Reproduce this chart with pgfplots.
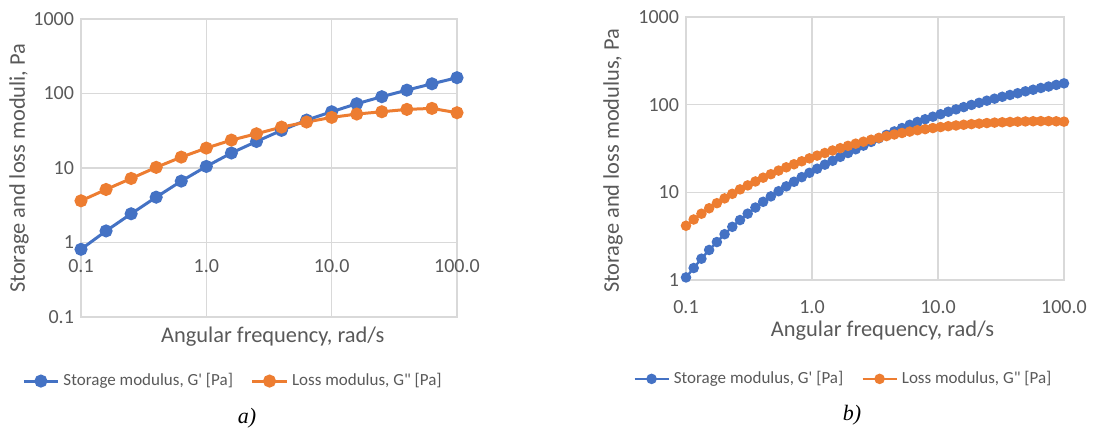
\documentclass[border=0pt]{standalone}
\usepackage{fontspec}
\setmainfont{Carlito}[Ligatures=TeXOff]
\newfontfamily\capfont{Liberation Serif}
\usepackage{pgfplots}
\usepackage{pgfplotstable}
\pgfplotsset{compat=1.18}
\definecolor{exblue}{HTML}{4472C4}
\definecolor{exorange}{HTML}{ED7D31}
\definecolor{gridgray}{HTML}{D9D9D9}
\definecolor{txtgray}{HTML}{595959}

\pgfplotstableread{
x g1 g2
0.1    0.81 3.63
0.1585 1.43 5.15
0.2512 2.43 7.24
0.3981 4.06 10.2
0.631  6.67 14.0
1      10.5 18.5
1.585  15.9 23.7
2.512  22.7 28.8
3.981  32.0 35.4
6.31   44.0 41.4
10     56.9 47.8
15.85  72.9 53.0
25.12  90.6 56.9
39.81  111  61.2
63.1   135  63.1
100    163  55.2
}\tabA

\pgfplotstableread{
x g1 g2
0.1    1.07 4.16
0.1151 1.37 4.90
0.1326 1.75 5.70
0.1526 2.20 6.58
0.1758 2.71 7.52
0.2024 3.33 8.53
0.2330 4.04 9.62
0.2683 4.83 10.8
0.3089 5.71 12.0
0.3556 6.71 13.3
0.4095 7.80 14.7
0.4715 8.99 16.1
0.5429 10.3 17.7
0.6251 11.7 19.3
0.7197 13.2 20.9
0.8286 14.9 22.6
0.9541 16.7 24.4
1.0985 18.6 26.2
1.2649 20.7 28.1
1.4563 22.9 30.0
1.6768 25.4 31.9
1.9307 28.1 33.9
2.2230 31.0 35.9
2.5595 34.1 37.8
2.9471 37.6 39.8
3.3932 41.3 41.8
3.9069 45.3 43.8
4.4984 49.5 45.7
5.1795 54.1 47.5
5.9636 58.9 49.3
6.8665 63.5 51.1
7.9060 68.2 52.6
9.1029 72.9 54.1
10.481 77.8 55.5
12.068 83.0 56.8
13.895 88.3 57.9
15.999 93.8 59.0
18.421 99.3 60.0
21.210 105  60.8
24.421 111  61.7
28.118 117  62.4
32.375 123  63.0
37.276 129  63.5
42.919 135  64.0
49.417 142  64.4
56.898 148  64.7
65.513 155  64.9
75.431 161  64.9
86.851 168  64.6
100    175  64.0
}\tabB

\begin{document}
\begin{tikzpicture}
\useasboundingbox (0,0) rectangle (551.5pt,214.5pt);

% ---- a) ----
\begin{axis}[
  scale only axis, xmode=log, ymode=log,
  xmin=0.1, xmax=100,
  xtick={0.1,1,10,100}, xticklabels={0.1,1.0,10.0,100.0},
  grid=major, grid style={gridgray, line width=0.6pt},
  axis line style={gridgray, line width=0.6pt},
  tick style={draw=none}, major tick length=0pt, minor tick length=0pt,
  tick label style={font=\fontsize{10}{12}\selectfont, text=txtgray},
  label style={font=\fontsize{11.2}{13}\selectfont, text=txtgray},
  clip=false,
  legend columns=2,
  legend cell align=left,
  legend style={draw=none, fill=none, font=\fontsize{8.5}{10}\selectfont, text=txtgray, anchor=center,
    column sep=0pt, /tikz/every even column/.append style={column sep=7pt}},
  at={(40.5pt,56pt)}, anchor=south west,
  width=188pt, height=149pt,
  ymin=0.1, ymax=1000,
  ytick={0.1,1,10,100,1000}, yticklabels={0.1,1,10,100,1000},
  xticklabel style={anchor=center, yshift=25.5pt},
  xlabel={Angular frequency, rad/s},
  xlabel style={at={(axis description cs:0.51,0)}, anchor=base, yshift=-12.5pt},
  ylabel={Storage and loss moduli, Pa},
  ylabel style={at={(axis description cs:-0.165,0.5)}, anchor=center},
  legend style={at={(axis description cs:0.407,-0.215)}},
]
\addplot[exblue, line width=1.5pt, mark=*, mark size=2.5pt, mark options={solid, fill=exblue, draw=exblue}] table[x=x, y=g1] {\tabA};
\addlegendentry{Storage modulus, G' [Pa]}
\addplot[exorange, line width=1.5pt, mark=*, mark size=2.5pt, mark options={solid, fill=exorange, draw=exorange}] table[x=x, y=g2] {\tabA};
\addlegendentry{Loss modulus, G" [Pa]}
\end{axis}

% ---- b) ----
\begin{axis}[
  scale only axis, xmode=log, ymode=log,
  xmin=0.1, xmax=100,
  xtick={0.1,1,10,100}, xticklabels={0.1,1.0,10.0,100.0},
  grid=major, grid style={gridgray, line width=0.6pt},
  axis line style={gridgray, line width=0.6pt},
  tick style={draw=none}, major tick length=0pt, minor tick length=0pt,
  tick label style={font=\fontsize{10}{12}\selectfont, text=txtgray},
  label style={font=\fontsize{11.2}{13}\selectfont, text=txtgray},
  clip=false,
  legend columns=2,
  legend cell align=left,
  legend style={draw=none, fill=none, font=\fontsize{8.5}{10}\selectfont, text=txtgray, anchor=center,
    column sep=0pt, /tikz/every even column/.append style={column sep=7pt}},
  at={(343pt,74.5pt)}, anchor=south west,
  width=189pt, height=131.5pt,
  ymin=1, ymax=1000,
  ytick={1,10,100,1000}, yticklabels={1,10,100,1000},
  xticklabel style={anchor=center, yshift=-13.5pt},
  xlabel={Angular frequency, rad/s},
  xlabel style={at={(axis description cs:0.52,0)}, anchor=base, yshift=-28pt},
  ylabel={Storage and loss modulus, Pa},
  ylabel style={at={(axis description cs:-0.193,0.454)}, anchor=center},
  legend style={at={(axis description cs:0.419,-0.376)}},
]
\addplot[exblue, line width=1.2pt, mark=*, mark size=2pt, mark options={solid, fill=exblue, draw=exblue}] table[x=x, y=g1] {\tabB};
\addlegendentry{Storage modulus, G' [Pa]}
\addplot[exorange, line width=1.2pt, mark=*, mark size=2pt, mark options={solid, fill=exorange, draw=exorange}] table[x=x, y=g2] {\tabB};
\addlegendentry{Loss modulus, G" [Pa]}
\end{axis}

\node[font=\capfont\itshape\fontsize{11}{13}\selectfont] at (123.5pt,5.5pt) {a)};
\node[font=\capfont\itshape\fontsize{11}{13}\selectfont] at (426pt,7pt) {b)};
\end{tikzpicture}
\end{document}
